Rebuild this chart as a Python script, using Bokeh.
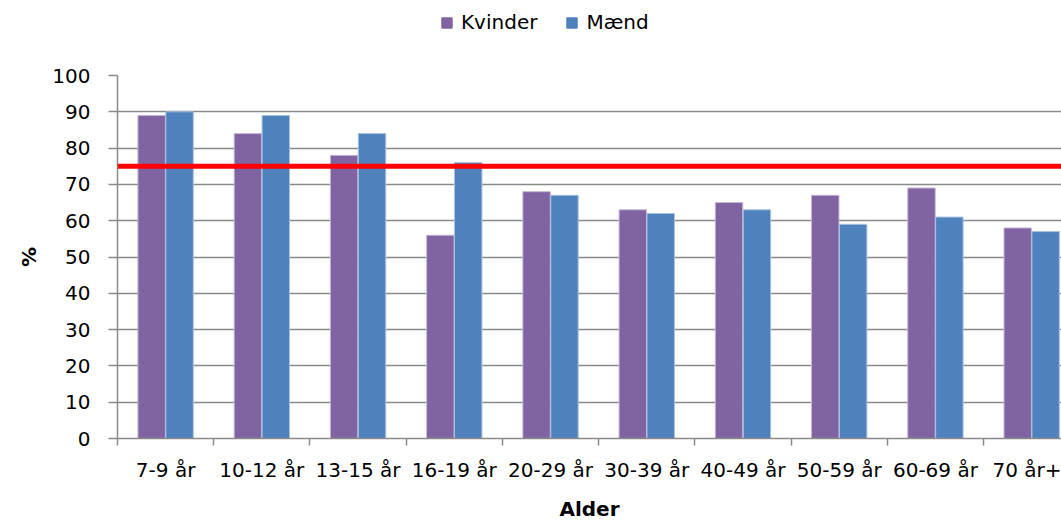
from bokeh.plotting import figure
from bokeh.layouts import column
from bokeh.models import ColumnDataSource, Range1d, FixedTicker, Span, Legend, LegendItem
from bokeh.embed import file_html
from bokeh.resources import INLINE

categories = ["7-9 år", "10-12 år", "13-15 år", "16-19 år", "20-29 år",
              "30-39 år", "40-49 år", "50-59 år", "60-69 år", "70 år+"]
kvinder = [89, 84, 78, 56, 68, 63, 65, 67, 69, 58]
maend = [90, 89, 84, 76, 67, 62, 63, 59, 61, 57]
series_names = ["Kvinder", "Mænd"]
reference_level = 75
y_ticks = list(range(0, 101, 10))

FONT = "DejaVu Sans"
GRID = "#8a8a8a"
PURPLE = "#8064A2"
BLUE = "#4F81BD"

centers = [i + 0.5 for i in range(len(categories))]
src = ColumnDataSource(dict(
    xk=[c - 0.145 for c in centers],
    xm=[c + 0.145 for c in centers],
    kvinder=kvinder,
    maend=maend,
))

# ---- legend strip above the chart ----
top = figure(width=1061, height=63, output_backend="svg", toolbar_location=None,
             x_range=Range1d(0, 1), y_range=Range1d(0, 1),
             min_border_left=117, min_border_right=0, min_border_top=0, min_border_bottom=0)
top.axis.visible = False
top.grid.visible = False
top.outline_line_color = None
top.background_fill_color = "white"
top.border_fill_color = "white"
# legend swatches only (kept outside the visible range)
swatch = ColumnDataSource(dict(x=[-5], top=[0]))
lk = top.vbar(x="x", top="top", width=0.1, source=swatch, fill_color=PURPLE, line_color=PURPLE)
lm = top.vbar(x="x", top="top", width=0.1, source=swatch, fill_color=BLUE, line_color=BLUE)
legend = Legend(items=[LegendItem(label=series_names[0], renderers=[lk]),
                       LegendItem(label=series_names[1], renderers=[lm])],
                location=(323, 29), orientation="horizontal",
                padding=0, margin=0, spacing=28, label_standoff=8,
                glyph_width=13, glyph_height=13,
                label_text_font=FONT, label_text_font_size="20px",
                label_text_color="black",
                border_line_color=None, background_fill_alpha=0)
top.add_layout(legend, "center")

# ---- main chart ----
p = figure(width=1061, height=460, output_backend="svg", toolbar_location=None,
           x_range=Range1d(0, 9.81), y_range=Range1d(0, 100),
           min_border_left=117, min_border_right=0, min_border_top=12, min_border_bottom=85)
p.outline_line_color = None
p.background_fill_color = "white"
p.border_fill_color = "white"

p.vbar(x="xk", top="kvinder", width=0.285, source=src, fill_color=PURPLE,
       line_color="#c3b6d6", line_width=1)
p.vbar(x="xm", top="maend", width=0.285, source=src, fill_color=BLUE,
       line_color="#a9c1e0", line_width=1)

p.add_layout(Span(location=reference_level, dimension="width", line_color="#ff0000", line_width=5))

p.xgrid.grid_line_color = None
p.ygrid.grid_line_color = GRID
p.ygrid.grid_line_width = 1.5
p.ygrid.ticker = FixedTicker(ticks=y_ticks)

ya = p.yaxis[0]
ya.ticker = FixedTicker(ticks=y_ticks)
ya.axis_line_color = GRID
ya.axis_line_width = 1.5
ya.major_tick_line_color = GRID
ya.major_tick_line_width = 1.5
ya.major_tick_out = 9
ya.major_tick_in = 0
ya.minor_tick_line_color = None
ya.major_label_standoff = 18
ya.major_label_text_font = FONT
ya.major_label_text_font_size = "20px"
ya.major_label_text_color = "black"
ya.axis_label = "%"
ya.axis_label_text_font = FONT
ya.axis_label_text_font_style = "bold"
ya.axis_label_text_font_size = "20px"
ya.axis_label_text_color = "black"
ya.axis_label_standoff = 8

xa = p.xaxis[0]
xa.ticker = FixedTicker(ticks=centers, minor_ticks=list(range(len(categories) + 1)))
xa.major_label_overrides = {c: name for c, name in zip(centers, categories)}
xa.axis_line_color = GRID
xa.axis_line_width = 1.5
xa.major_tick_line_color = None
xa.major_tick_out = 0
xa.major_tick_in = 0
xa.minor_tick_line_color = GRID
xa.minor_tick_line_width = 1.5
xa.minor_tick_out = 7
xa.minor_tick_in = 0
xa.major_label_standoff = 12
xa.major_label_text_font = FONT
xa.major_label_text_font_size = "20px"
xa.major_label_text_color = "black"
xa.axis_label = "Alder"
xa.axis_label_text_font = FONT
xa.axis_label_text_font_style = "bold"
xa.axis_label_text_font_size = "20px"
xa.axis_label_text_color = "black"
xa.axis_label_standoff = 12

layout = column(top, p, spacing=0)
open("out.html", "w").write(file_html(layout, INLINE))
